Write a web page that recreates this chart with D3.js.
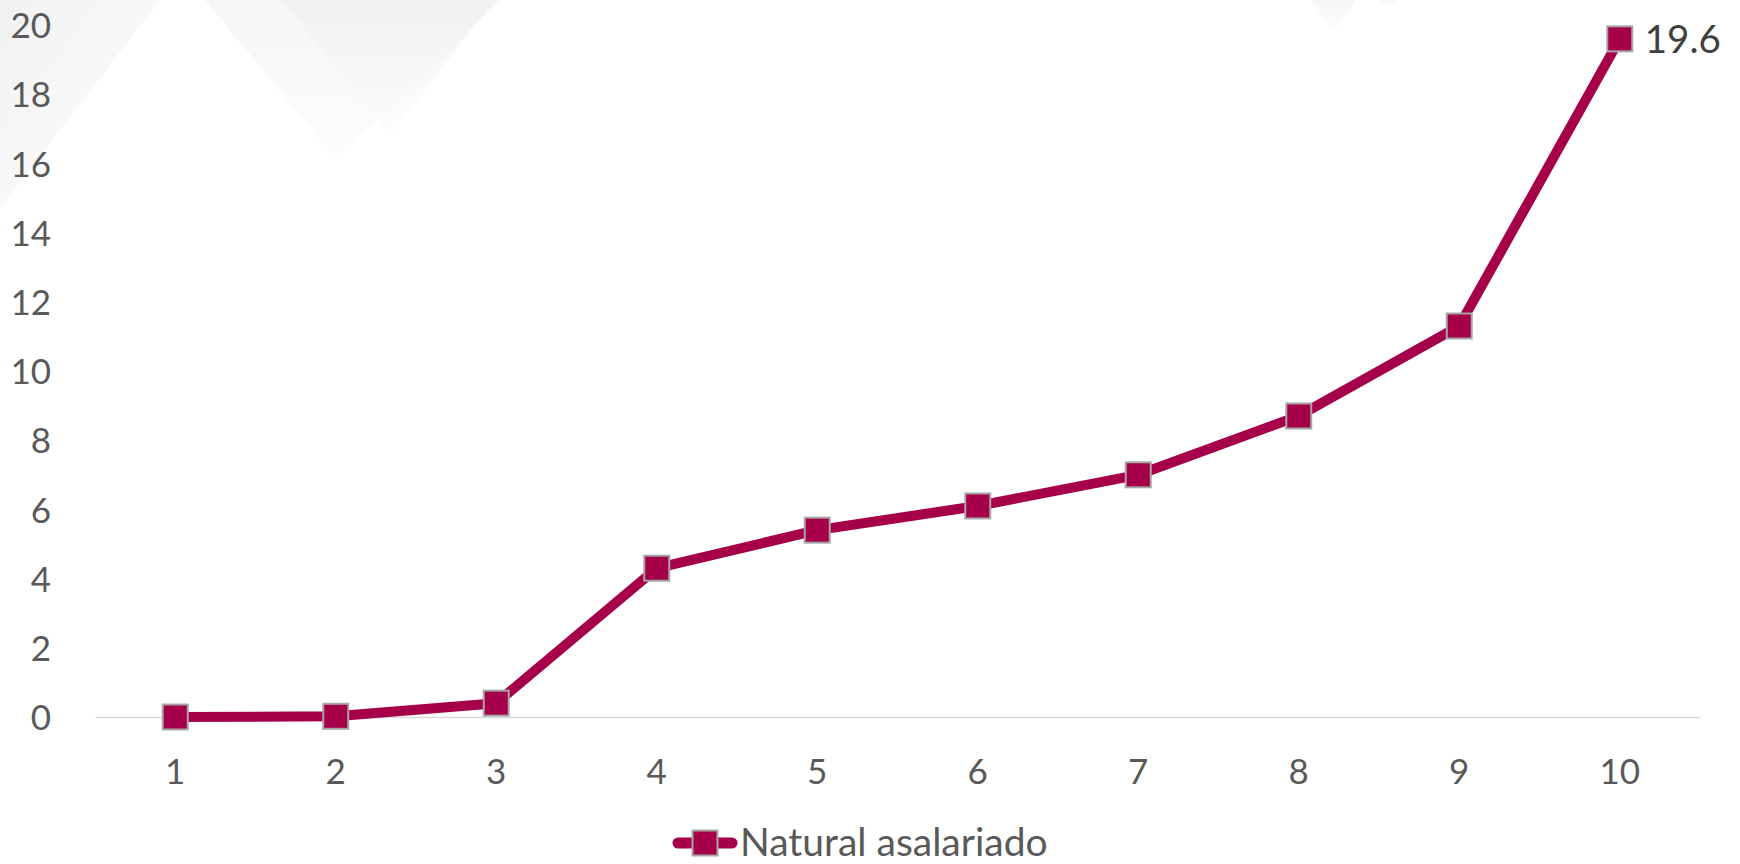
<!DOCTYPE html>
<html>
<head>
<meta charset="utf-8">
<script src="https://cdn.jsdelivr.net/npm/d3@7"></script>
<style>
  html, body { margin: 0; padding: 0; background: #ffffff; }
  svg { display: block; }
</style>
</head>
<body>
<svg id="chart" width="1740" height="864"></svg>
<script>
// ---- data ----
const categories = ["1", "2", "3", "4", "5", "6", "7", "8", "9", "10"];
const values = [0, 0.02, 0.4, 4.3, 5.4, 6.1, 7.0, 8.7, 11.3, 19.6];
const yTicks = [0, 2, 4, 6, 8, 10, 12, 14, 16, 18, 20];
const seriesName = "Natural asalariado";
const labelledIndex = [9];

// ---- layout ----
const W = 1740, H = 864;
const plot = { left: 95, right: 1700, top: 25, bottom: 717 };
const lineColor = "#A6004B";
const markerStroke = "#A6A6A6";
const textColor = "#595959";
const font = "Lato, 'Open Sans', sans-serif";

const svg = d3.select("#chart");

// faint background watermark shapes
const defs = svg.append("defs");
const grad = defs.append("linearGradient").attr("id", "fade")
  .attr("x1", 0).attr("y1", 0).attr("x2", 0).attr("y2", 1);
grad.append("stop").attr("offset", "0%").attr("stop-color", "#eeeeef");
grad.append("stop").attr("offset", "100%").attr("stop-color", "#fbfbfb");
const grad2 = defs.append("linearGradient").attr("id", "fade2")
  .attr("x1", 0).attr("y1", 0).attr("x2", 1).attr("y2", 1);
grad2.append("stop").attr("offset", "0%").attr("stop-color", "#f0f0f1");
grad2.append("stop").attr("offset", "100%").attr("stop-color", "#fcfcfc");

const bg = svg.append("g");
const shapes = [
  { pts: [[0,0],[160,0],[0,208]], fill: "url(#fade2)", op: 0.8 },
  { pts: [[0,0],[118,0],[0,160]], fill: "url(#fade2)", op: 0.6 },
  { pts: [[205,0],[500,0],[337,160]], fill: "url(#fade)", op: 0.55 },
  { pts: [[282,0],[495,0],[389,136]], fill: "url(#fade)", op: 0.6 },
  { pts: [[1312,0],[1356,0],[1333,33]], fill: "url(#fade)", op: 0.5 },
  { pts: [[1380,0],[1397,0],[1388,8]], fill: "url(#fade)", op: 0.5 }
];
bg.selectAll("polygon").data(shapes).join("polygon")
  .attr("points", d => d.pts.map(p => p.join(",")).join(" "))
  .attr("fill", d => d.fill)
  .attr("opacity", d => d.op);

const x = d3.scaleBand().domain(categories).range([plot.left, plot.right]);
const cx = c => x(c) + x.bandwidth() / 2;
const y = d3.scaleLinear().domain([0, 20]).range([plot.bottom, plot.top]);

// y axis labels
const yAxis = d3.axisLeft(y).tickValues(yTicks).tickSize(0).tickPadding(0);
const yg = svg.append("g").attr("transform", "translate(51,0)").call(yAxis);
yg.select(".domain").remove();
yg.selectAll("text")
  .attr("font-family", font).attr("font-size", 35).attr("fill", textColor)
  .attr("dy", "0.36em").attr("x", 0);

// x axis line
const xAxis = d3.axisBottom(x).tickSize(0).tickPadding(0);
const xg = svg.append("g").attr("transform", `translate(0,${plot.bottom})`).call(xAxis);
xg.select(".domain").attr("stroke", "#D9D9D9").attr("stroke-width", 1.5);
xg.selectAll("text")
  .attr("font-family", font).attr("font-size", 35).attr("fill", textColor)
  .attr("dy", 0).attr("y", 67);

// line
const data = categories.map((c, i) => ({ c, v: values[i] }));
const line = d3.line().x(d => cx(d.c)).y(d => y(d.v));
svg.append("path").datum(data)
  .attr("d", line)
  .attr("fill", "none")
  .attr("stroke", lineColor)
  .attr("stroke-width", 10)
  .attr("stroke-linejoin", "round");

// markers
const ms = 25;
svg.append("g").selectAll("rect").data(data).join("rect")
  .attr("x", d => cx(d.c) - ms / 2)
  .attr("y", d => y(d.v) - ms / 2)
  .attr("width", ms).attr("height", ms)
  .attr("fill", lineColor)
  .attr("stroke", markerStroke).attr("stroke-width", 2);

// data label
svg.append("g").selectAll("text").data(labelledIndex.map(i => data[i])).join("text")
  .attr("x", d => cx(d.c) + 25)
  .attr("y", d => y(d.v))
  .attr("dy", "0.36em")
  .attr("font-family", font).attr("font-size", 38.5).attr("fill", "#404040")
  .text(d => d3.format(".1f")(d.v));

// legend
const lg = svg.append("g").attr("transform", "translate(0,843)");
lg.append("line").attr("x1", 678).attr("x2", 732).attr("y1", 0).attr("y2", 0)
  .attr("stroke", lineColor).attr("stroke-width", 11).attr("stroke-linecap", "round");
lg.append("rect").attr("x", 705 - ms / 2).attr("y", -ms / 2).attr("width", ms).attr("height", ms)
  .attr("fill", lineColor).attr("stroke", markerStroke).attr("stroke-width", 2);
lg.append("text").attr("x", 740).attr("y", 0).attr("dy", "0.34em")
  .attr("font-family", font).attr("font-size", 39).attr("fill", textColor)
  .text(seriesName);
</script>
</body>
</html>
